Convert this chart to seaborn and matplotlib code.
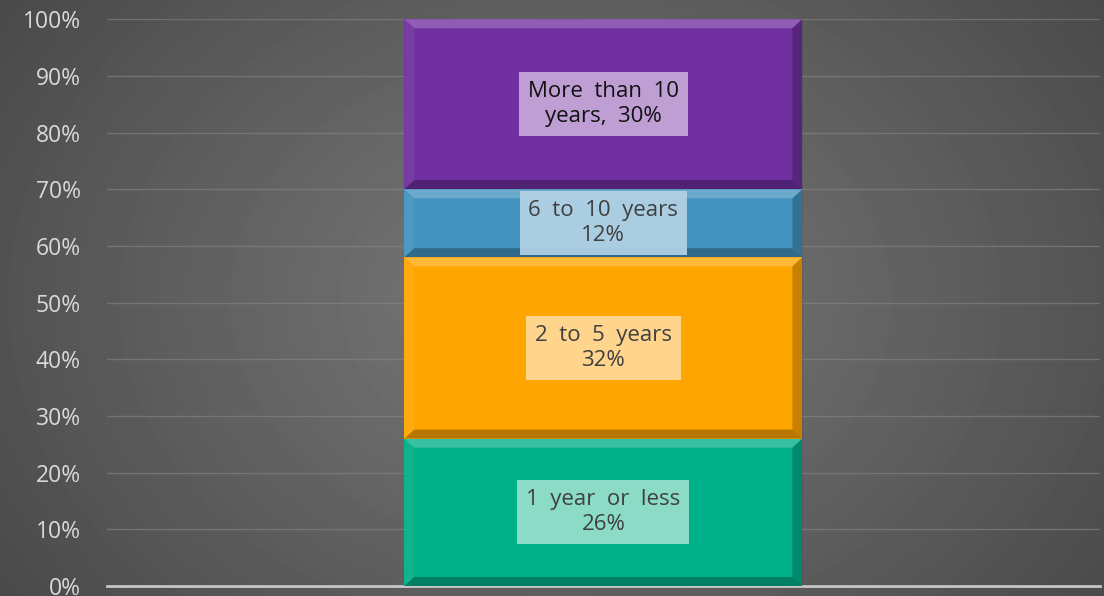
import numpy as np
import pandas as pd
import matplotlib.pyplot as plt
import seaborn as sns
from matplotlib.patches import Polygon
from matplotlib.ticker import PercentFormatter

# data
segments = ["1 year or less", "2 to 5 years", "6 to 10 years", "More than 10 years"]
shares = [26, 32, 12, 30]
labels = ["1  year  or  less\n26%", "2  to  5  years\n32%", "6  to  10  years\n12%",
          "More  than  10\nyears,  30%"]
bar_colors = ["#00B088", "#FFA500", "#4393C0", "#7030A0"]
box_colors = ["#99DFCC", "#FFD999", "#B4D3E6", "#C5A8D8"]
text_colors = ["#404040", "#404040", "#404040", "#111111"]

df = pd.DataFrame({"segment": segments, "share": shares})
df["top"] = df["share"].cumsum()
df["bottom"] = df["top"] - df["share"]
df["group"] = "All"

sns.set_theme(style="white")
plt.rcParams["font.family"] = ["Open Sans", "DejaVu Sans"]

fig = plt.figure(figsize=(11.04, 5.96), dpi=100)

# radial grey background
bg = fig.add_axes([0, 0, 1, 1], zorder=0)
yy, xx = np.mgrid[0:596, 0:1104]
r = np.sqrt(((xx - 560) / 850) ** 2 + ((yy - 300) / 650) ** 2)
shade = np.clip(0.48 - 0.24 * r, 0.26, 0.5)
bg.imshow(shade, cmap="gray", vmin=0, vmax=1, aspect="auto", extent=[0, 1, 0, 1])
bg.set_axis_off()

ax = fig.add_axes([0.097, 0.0168, 0.899, 0.951], zorder=1)
ax.patch.set_alpha(0)

# stacked bar: draw cumulative tops from largest to smallest
for i in reversed(range(len(segments))):
    sub = df.iloc[[i]]
    sns.barplot(data=sub, x="group", y="top", color=bar_colors[i], width=0.401,
                saturation=1, linewidth=0, ax=ax)

# bevel shading on each segment
bar = ax.patches[0]
x0, x1 = bar.get_x(), bar.get_x() + bar.get_width()
dx, dy = 0.01, 1.6
for i, row in df.iterrows():
    y0, y1 = row["bottom"], row["top"]
    faces = [
        ([(x0, y1), (x1, y1), (x1 - dx, y1 - dy), (x0 + dx, y1 - dy)], "white", 0.22),
        ([(x0, y0), (x1, y0), (x1 - dx, y0 + dy), (x0 + dx, y0 + dy)], "black", 0.28),
        ([(x0, y0), (x0, y1), (x0 + dx, y1 - dy), (x0 + dx, y0 + dy)], "white", 0.06),
        ([(x1, y0), (x1, y1), (x1 - dx, y1 - dy), (x1 - dx, y0 + dy)], "black", 0.22),
    ]
    for pts, fc, a in faces:
        ax.add_patch(Polygon(pts, closed=True, fc=fc, ec="none", alpha=a, zorder=3))

for i, row in df.iterrows():
    mid = (row["bottom"] + row["top"]) / 2
    ax.text(0, mid, labels[i], ha="center", va="center", fontsize=16,
            color=text_colors[i], linespacing=1.25, zorder=5,
            bbox=dict(boxstyle="square,pad=0.4", fc=box_colors[i], ec="none", alpha=0.92))

ax.set_xlim(-0.5, 0.5)
ax.set_ylim(0, 100)
ax.set_yticks(np.arange(0, 101, 10))
ax.yaxis.set_major_formatter(PercentFormatter(decimals=0))
ax.tick_params(axis="y", length=0, pad=19, labelsize=16.5, labelcolor="#D9D9D9")
ax.set_xticks([])
ax.set_xlabel("")
ax.set_ylabel("")
ax.grid(axis="y", color="#8A8A8A", linewidth=1, alpha=0.55)
ax.set_axisbelow(True)
for side in ["top", "right", "left"]:
    ax.spines[side].set_visible(False)
ax.spines["bottom"].set_color("#C8C8C8")
ax.spines["bottom"].set_linewidth(2)
ax.spines["bottom"].set_zorder(0.5)

fig.savefig("out.png", dpi=100)
